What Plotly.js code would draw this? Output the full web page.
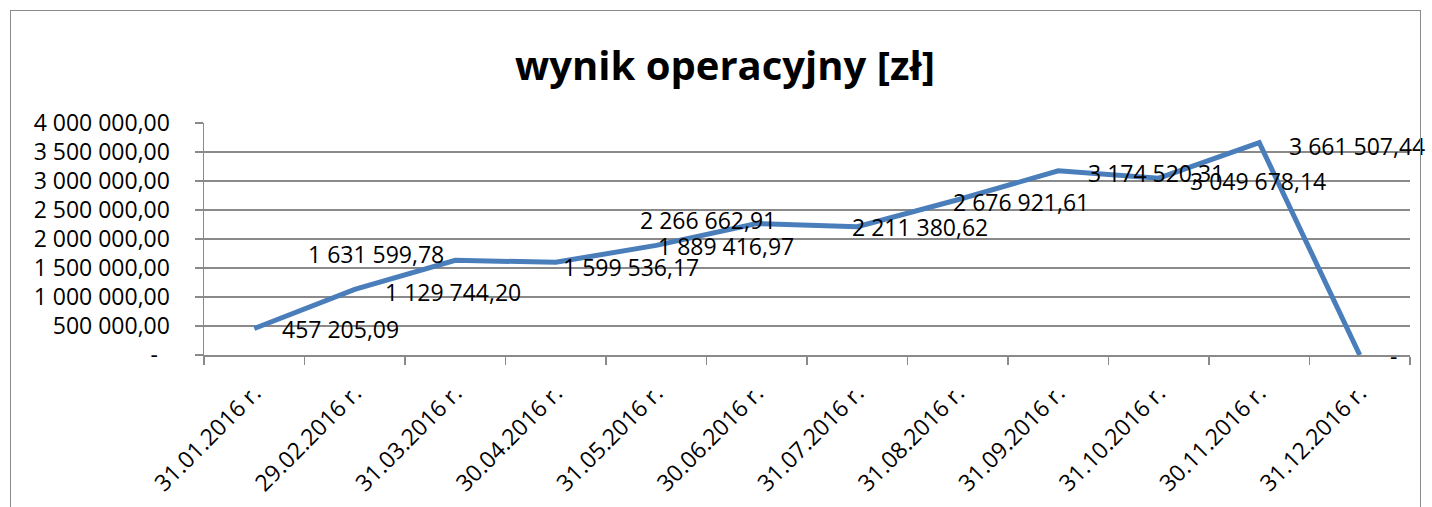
<!DOCTYPE html>
<html>
<head>
<meta charset="utf-8">
<script src="https://cdn.plot.ly/plotly-3.0.1.min.js"></script>
<style>
  html, body { margin: 0; padding: 0; background: #ffffff; }
  #wrap { position: relative; width: 1432px; height: 507px; overflow: hidden; }
  #chart { position: absolute; left: 0; top: 0; width: 1432px; height: 507px; }
  #frame { position: absolute; left: 10px; top: 10px; width: 1411px; height: 520px;
           border: 1.5px solid #8a8a8a; pointer-events: none; box-sizing: border-box; }
</style>
</head>
<body>
<div id="wrap">
  <div id="chart"></div>
  <div id="frame"></div>
</div>
<script>
// ---- data ----
const chartTitle = 'wynik operacyjny [zł]';
const categories = [
  '31.01.2016 r.', '29.02.2016 r.', '31.03.2016 r.', '30.04.2016 r.',
  '31.05.2016 r.', '30.06.2016 r.', '31.07.2016 r.', '31.08.2016 r.',
  '31.09.2016 r.', '31.10.2016 r.', '30.11.2016 r.', '31.12.2016 r.'
];
const values = [
  457205.09, 1129744.20, 1631599.78, 1599536.17,
  1889416.97, 2266662.91, 2211380.62, 2676921.61,
  3174520.31, 3049678.14, 3661507.44, 0
];
const yTickValues = [0, 500000, 1000000, 1500000, 2000000, 2500000, 3000000, 3500000, 4000000];
const yTickLabels = ['-\u00a0\u00a0', '500 000,00', '1 000 000,00', '1 500 000,00', '2 000 000,00',
                     '2 500 000,00', '3 000 000,00', '3 500 000,00', '4 000 000,00'];

// ---- label placement (styling, px) ----
const labelPlacement = [
  {anchor: 'left',  dx: 28,  dy: 1},
  {anchor: 'left',  dx: 30,  dy: 3},
  {anchor: 'right', dx: -11, dy: -6},
  {anchor: 'left',  dx: 7,   dy: 5},
  {anchor: 'left',  dx: 2,   dy: 1},
  {anchor: 'right', dx: 19,  dy: -4},
  {anchor: 'left',  dx: -5,  dy: 0},
  {anchor: 'left',  dx: -5,  dy: 2},
  {anchor: 'left',  dx: 30,  dy: 2},
  {anchor: 'left',  dx: 31,  dy: 3},
  {anchor: 'left',  dx: 30,  dy: 3},
  {anchor: 'left',  dx: 30,  dy: 1}
];

function fmtPL(v) {
  if (v === 0) return '-';
  const parts = v.toFixed(2).split('.');
  const intPart = parts[0].replace(/\B(?=(\d{3})+(?!\d))/g, ' ');
  return intPart + ',' + parts[1];
}

const FONT = 'Open Sans, Noto Sans, sans-serif';
const GRID = '#8a8a8a';
const TXT = 23;

const trace = {
  type: 'scatter',
  mode: 'lines',
  x: categories,
  y: values,
  line: {color: '#4a7ebb', width: 5},
  hoverinfo: 'skip',
  showlegend: false
};

const annotations = values.map((v, i) => ({
  x: categories[i],
  y: v,
  xref: 'x',
  yref: 'y',
  text: fmtPL(v),
  showarrow: false,
  xanchor: labelPlacement[i].anchor,
  yanchor: 'middle',
  xshift: labelPlacement[i].dx,
  yshift: -labelPlacement[i].dy,
  font: {family: FONT, size: TXT, color: '#000000'},
  borderpad: 0,
  borderwidth: 0
}));

const layout = {
  width: 1432,
  height: 507,
  margin: {l: 204, r: 22, t: 123, b: 152, pad: 0},
  paper_bgcolor: '#ffffff',
  plot_bgcolor: '#ffffff',
  title: {
    text: '<b>' + chartTitle + '</b>',
    font: {family: FONT, size: 40, color: '#000000'},
    x: 725 / 1432,
    xref: 'container',
    xanchor: 'center',
    y: 1 - 66 / 507,
    yref: 'container',
    yanchor: 'middle'
  },
  xaxis: {
    type: 'category',
    range: [-0.5, categories.length - 0.5],
    tickson: 'boundaries',
    ticks: 'outside',
    ticklen: 8,
    tickwidth: 1.5,
    tickcolor: GRID,
    showline: true,
    linecolor: GRID,
    linewidth: 1.5,
    showgrid: false,
    zeroline: false,
    tickangle: -45,
    ticklabelstandoff: 14,
    tickfont: {family: FONT, size: TXT, color: '#000000'},
    fixedrange: true
  },
  yaxis: {
    range: [0, 4000000],
    tickmode: 'array',
    tickvals: yTickValues,
    ticktext: yTickLabels,
    ticks: 'outside',
    ticklen: 8,
    tickwidth: 1.5,
    tickcolor: GRID,
    showline: true,
    linecolor: GRID,
    linewidth: 1.5,
    showgrid: true,
    gridcolor: GRID,
    gridwidth: 1.5,
    zeroline: false,
    ticklabelstandoff: 20,
    tickfont: {family: FONT, size: TXT, color: '#000000'},
    fixedrange: true
  },
  annotations: annotations,
  showlegend: false
};

Plotly.newPlot('chart', [trace], layout, {staticPlot: true, displayModeBar: false});
</script>
</body>
</html>
